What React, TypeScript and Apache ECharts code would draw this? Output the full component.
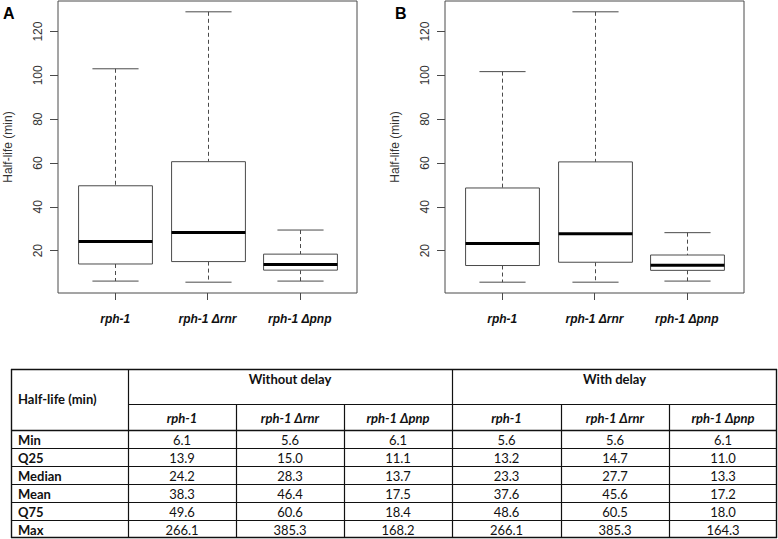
import React, { useEffect, useRef } from "react";
import * as echarts from "echarts";

// ---------- data ----------
const categories = ["rph-1", "rph-1 Δrnr", "rph-1 Δpnp"];
const statNames = ["Min", "Q25", "Median", "Mean", "Q75", "Max"];

// Without delay (panel A)
const noDelayRph1 = [6.1, 13.9, 24.2, 38.3, 49.6, 266.1];
const noDelayRnr = [5.6, 15.0, 28.3, 46.4, 60.6, 385.3];
const noDelayPnp = [6.1, 11.1, 13.7, 17.5, 18.4, 168.2];
// With delay (panel B)
const delayRph1 = [5.6, 13.2, 23.3, 37.6, 48.6, 266.1];
const delayRnr = [5.6, 14.7, 27.7, 45.6, 60.5, 385.3];
const delayPnp = [6.1, 11.0, 13.3, 17.2, 18.0, 164.3];

// upper whisker ends (outliers not drawn)
const whiskerTopA = [103.0, 129.0, 29.4];
const whiskerTopB = [101.7, 129.0, 28.2];

const yTicks = [20, 40, 60, 80, 100, 120];
const xTicks = [1, 2, 3];

const groupTitles = ["Without delay", "With delay"];
const tableHeader = "Half-life (min)";

// ---------- helpers ----------
const boxRows = (cols: number[][], tops: number[]) =>
  cols.map((c, i) => [i + 1, c[0], c[1], c[2], c[4], tops[i]]);

const LINE = "#4a4a4a";

const renderBox = (params: any, api: any) => {
  const x = api.value(0);
  const lo = api.coord([x, api.value(1)]);
  const q1 = api.coord([x, api.value(2)]);
  const med = api.coord([x, api.value(3)]);
  const q3 = api.coord([x, api.value(4)]);
  const hi = api.coord([x, api.value(5)]);
  const bw = api.size([0.8, 0])[0];
  const cw = api.size([0.5, 0])[0];
  const cx = Math.round(lo[0]) + 0.5;
  const dash = { stroke: LINE, lineWidth: 1, lineDash: [4, 3] };
  const solid = { stroke: LINE, lineWidth: 1 };
  return {
    type: "group",
    children: [
      { type: "line", shape: { x1: cx, y1: hi[1], x2: cx, y2: q3[1] }, style: dash },
      { type: "line", shape: { x1: cx, y1: q1[1], x2: cx, y2: lo[1] }, style: dash },
      { type: "line", shape: { x1: cx - cw / 2, y1: hi[1], x2: cx + cw / 2, y2: hi[1] }, style: solid },
      { type: "line", shape: { x1: cx - cw / 2, y1: lo[1], x2: cx + cw / 2, y2: lo[1] }, style: solid },
      {
        type: "rect",
        shape: { x: cx - bw / 2, y: q3[1], width: bw, height: q1[1] - q3[1] },
        style: { fill: "#fff", stroke: LINE, lineWidth: 1 },
      },
      {
        type: "line",
        shape: { x1: cx - bw / 2, y1: med[1], x2: cx + bw / 2, y2: med[1] },
        style: { stroke: "#000", lineWidth: 3 },
      },
    ],
  };
};

const AXFONT = "'Liberation Sans', Arial, sans-serif";
const TBFONT = "Lato, 'Open Sans', sans-serif";

const makeXAxis = (gi: number) => ({
  type: "value",
  gridIndex: gi,
  min: 0.38,
  max: 3.62,
  splitLine: { show: false },
  axisLine: { show: false },
  axisTick: { show: true, length: 7, customValues: xTicks, lineStyle: { color: LINE } },
  axisLabel: {
    customValues: xTicks,
    margin: 20,
    fontFamily: AXFONT,
    fontSize: 12,
    fontWeight: "bold",
    fontStyle: "italic",
    color: "#111",
    formatter: (v: number) => categories[Math.round(v) - 1] ?? "",
  },
});

const makeYAxis = (gi: number) => ({
  type: "value",
  gridIndex: gi,
  min: 0.66,
  max: 133.94,
  name: "Half-life (min)",
  nameLocation: "middle",
  nameGap: 44,
  nameTextStyle: { fontFamily: AXFONT, fontSize: 12, color: "#333" },
  splitLine: { show: false },
  axisLine: { show: false },
  axisTick: { show: true, length: 8, customValues: yTicks, lineStyle: { color: LINE } },
  axisLabel: {
    customValues: yTicks,
    rotate: 90,
    margin: 14,
    fontFamily: AXFONT,
    fontSize: 12,
    color: "#333",
  },
});

// ---------- table graphics ----------
const colX = [11, 128, 236, 344, 452, 561, 669, 777];
const tTop = 369;
const tMid = 404;
const tHead = 430;
const rowH = 18;
const tBottom = tHead + rowH * statNames.length;

const buildTable = () => {
  const els: any[] = [];
  const ln = (x1: number, y1: number, x2: number, y2: number, w = 1.2) =>
    els.push({ type: "line", shape: { x1, y1, x2, y2 }, style: { stroke: "#111", lineWidth: w }, silent: true });
  const tx = (text: string, x: number, y: number, align: string, weight = "normal", style = "normal", size = 13) =>
    els.push({
      type: "text",
      x,
      y,
      silent: true,
      style: {
        text,
        fill: "#111",
        fontFamily: TBFONT,
        fontSize: size,
        fontWeight: weight,
        fontStyle: style,
        textAlign: align,
        textVerticalAlign: "middle",
      },
    });
  // frame
  ln(colX[0], tTop + 0.5, colX[7], tTop + 0.5, 1.4);
  ln(colX[0], tBottom - 0.5, colX[7], tBottom - 0.5, 1.4);
  ln(colX[0] + 0.5, tTop, colX[0] + 0.5, tBottom, 1.4);
  ln(colX[7] - 0.5, tTop, colX[7] - 0.5, tBottom, 1.4);
  ln(colX[1] + 0.5, tTop, colX[1] + 0.5, tBottom);
  ln(colX[4] + 0.5, tTop, colX[4] + 0.5, tBottom);
  [2, 3, 5, 6].forEach((i) => ln(colX[i] + 0.5, tMid, colX[i] + 0.5, tBottom));
  ln(colX[1], tMid + 0.5, colX[7], tMid + 0.5);
  ln(colX[0], tHead + 0.5, colX[7], tHead + 0.5, 1.4);
  for (let r = 1; r < statNames.length; r++) ln(colX[0], tHead + r * rowH + 0.5, colX[7], tHead + r * rowH + 0.5);

  tx(tableHeader, colX[0] + 7, 399, "left", "bold");
  tx(groupTitles[0], (colX[1] + colX[4]) / 2, 379, "center", "bold");
  tx(groupTitles[1], (colX[4] + colX[7]) / 2, 379, "center", "bold");
  const cols = [noDelayRph1, noDelayRnr, noDelayPnp, delayRph1, delayRnr, delayPnp];
  cols.forEach((c, ci) => {
    const cx = (colX[ci + 1] + colX[ci + 2]) / 2;
    tx(categories[ci % 3], cx, (tMid + tHead) / 2 + 0.5, "center", "bold", "italic");
    c.forEach((v, ri) => tx(v.toFixed(1), cx, tHead + ri * rowH + rowH / 2 + 0.5, "center", "normal", "normal", 13));
  });
  statNames.forEach((s, ri) => tx(s, colX[0] + 7, tHead + ri * rowH + rowH / 2 + 0.5, "left", "bold"));
  return els;
};

export default function App() {
  const ref = useRef<HTMLDivElement>(null);
  useEffect(() => {
    if (!ref.current) return;
    const chart = echarts.init(ref.current, null, { renderer: "svg" });
    const option: any = {
      animation: false,
      backgroundColor: "#fff",
      grid: [
        { left: 58, top: 1, width: 299, height: 292, show: true, borderColor: LINE, borderWidth: 1, backgroundColor: "transparent" },
        { left: 445, top: 1, width: 299, height: 292, show: true, borderColor: LINE, borderWidth: 1, backgroundColor: "transparent" },
      ],
      xAxis: [makeXAxis(0), makeXAxis(1)],
      yAxis: [makeYAxis(0), makeYAxis(1)],
      series: [
        {
          type: "custom",
          xAxisIndex: 0,
          yAxisIndex: 0,
          renderItem: renderBox,
          encode: { x: 0, y: [1, 2, 3, 4, 5] },
          data: boxRows([noDelayRph1, noDelayRnr, noDelayPnp], whiskerTopA),
          silent: true,
        },
        {
          type: "custom",
          xAxisIndex: 1,
          yAxisIndex: 1,
          renderItem: renderBox,
          encode: { x: 0, y: [1, 2, 3, 4, 5] },
          data: boxRows([delayRph1, delayRnr, delayPnp], whiskerTopB),
          silent: true,
        },
      ],
      graphic: [
        {
          type: "text",
          x: 3,
          y: 13,
          style: { text: "A", fontFamily: AXFONT, fontSize: 16, fontWeight: "bold", fill: "#000", textVerticalAlign: "middle" },
        },
        {
          type: "text",
          x: 395,
          y: 13,
          style: { text: "B", fontFamily: AXFONT, fontSize: 16, fontWeight: "bold", fill: "#000", textVerticalAlign: "middle" },
        },
        ...buildTable(),
      ],
    };
    chart.setOption(option);
    return () => chart.dispose();
  }, []);
  return <div ref={ref} style={{ position: "fixed", left: 0, top: 0, width: 778, height: 539 }} />;
}
